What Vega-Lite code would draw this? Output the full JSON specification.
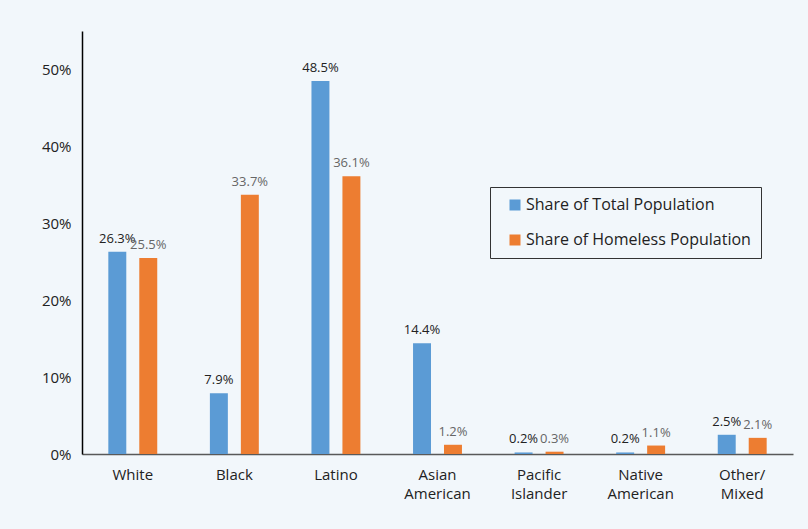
{
  "$schema": "https://vega.github.io/schema/vega-lite/v6.json",
  "width": 711,
  "height": 423,
  "autosize": {"type": "none"},
  "padding": {"left": 82, "top": 31, "right": 15, "bottom": 75},
  "background": "#f2f7fb",
  "config": {
    "view": {"stroke": null},
    "font": "Open Sans"
  },
  "data": {
    "values": [
      {"group": "White", "series": "Share of Total Population", "value": 26.3},
      {"group": "White", "series": "Share of Homeless Population", "value": 25.5},
      {"group": "Black", "series": "Share of Total Population", "value": 7.9},
      {"group": "Black", "series": "Share of Homeless Population", "value": 33.7},
      {"group": "Latino", "series": "Share of Total Population", "value": 48.5},
      {"group": "Latino", "series": "Share of Homeless Population", "value": 36.1},
      {"group": "Asian American", "series": "Share of Total Population", "value": 14.4},
      {"group": "Asian American", "series": "Share of Homeless Population", "value": 1.2},
      {"group": "Pacific Islander", "series": "Share of Total Population", "value": 0.2},
      {"group": "Pacific Islander", "series": "Share of Homeless Population", "value": 0.3},
      {"group": "Native American", "series": "Share of Total Population", "value": 0.2},
      {"group": "Native American", "series": "Share of Homeless Population", "value": 1.1},
      {"group": "Other/ Mixed", "series": "Share of Total Population", "value": 2.5},
      {"group": "Other/ Mixed", "series": "Share of Homeless Population", "value": 2.1}
    ]
  },
  "transform": [
    {"calculate": "format(datum.value, '.1f') + '%'", "as": "label"}
  ],
  "encoding": {
    "x": {
      "field": "group",
      "type": "nominal",
      "sort": null,
      "scale": {"paddingInner": 0, "paddingOuter": 0},
      "axis": {
        "title": null,
        "labelAngle": 0,
        "ticks": false,
        "domainColor": "#595959",
        "domainWidth": 1.5,
        "labelFontSize": 15,
        "labelColor": "#222222",
        "labelPadding": 13,
        "labelLineHeight": 19,
        "labelExpr": "split(datum.label, ' ')"
      }
    },
    "xOffset": {
      "field": "series",
      "type": "nominal",
      "sort": ["Share of Total Population", "Share of Homeless Population"],
      "scale": {"paddingInner": 0.42, "paddingOuter": 0.85}
    },
    "y": {
      "field": "value",
      "type": "quantitative",
      "scale": {"domain": [0, 55]},
      "axis": {
        "title": null,
        "values": [0, 10, 20, 30, 40, 50],
        "labelExpr": "datum.value + '%'",
        "grid": false,
        "ticks": false,
        "domainColor": "#000000",
        "domainWidth": 1.5,
        "labelFontSize": 15,
        "labelColor": "#222222",
        "labelPadding": 11
      }
    }
  },
  "layer": [
    {
      "mark": {"type": "bar"},
      "encoding": {
        "color": {
          "field": "series",
          "type": "nominal",
          "sort": ["Share of Total Population", "Share of Homeless Population"],
          "scale": {
            "domain": ["Share of Total Population", "Share of Homeless Population"],
            "range": ["#5b9bd5", "#ed7d31"]
          },
          "legend": {
            "title": null,
            "orient": "none",
            "legendX": 408,
            "legendY": 156,
            "symbolType": "square",
            "symbolSize": 121,
            "symbolStrokeWidth": 0,
            "symbolOffset": 7,
            "labelFontSize": 16,
            "labelColor": "#222222",
            "labelOffset": 3,
            "labelLimit": 0,
            "rowPadding": 19,
            "padding": 10,
            "strokeColor": "#333333",
            "fillColor": "#f2f7fb"
          }
        }
      }
    },
    {
      "mark": {"type": "text", "baseline": "alphabetic", "dy": -9, "fontSize": 13},
      "encoding": {
        "text": {"field": "label", "type": "nominal"},
        "color": {
          "condition": {"test": "datum.series == 'Share of Total Population'", "value": "#222222"},
          "value": "#666666"
        }
      }
    }
  ]
}
